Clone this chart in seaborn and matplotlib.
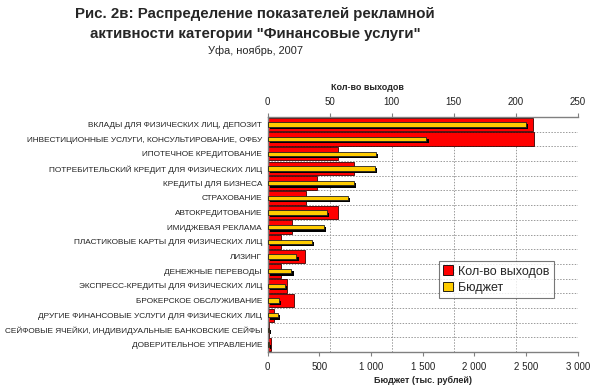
import matplotlib
matplotlib.use("Agg")
import matplotlib.pyplot as plt
import matplotlib.patheffects as pe
import seaborn as sns
import pandas as pd
import numpy as np
from matplotlib.patches import Patch

categories = [
    "ВКЛАДЫ ДЛЯ ФИЗИЧЕСКИХ ЛИЦ, ДЕПОЗИТ",
    "ИНВЕСТИЦИОННЫЕ УСЛУГИ, КОНСУЛЬТИРОВАНИЕ, ОФБУ",
    "ИПОТЕЧНОЕ КРЕДИТОВАНИЕ",
    "ПОТРЕБИТЕЛЬСКИЙ КРЕДИТ ДЛЯ ФИЗИЧЕСКИХ ЛИЦ",
    "КРЕДИТЫ ДЛЯ БИЗНЕСА",
    "СТРАХОВАНИЕ",
    "АВТОКРЕДИТОВАНИЕ",
    "ИМИДЖЕВАЯ РЕКЛАМА",
    "ПЛАСТИКОВЫЕ КАРТЫ ДЛЯ ФИЗИЧЕСКИХ ЛИЦ",
    "ЛИЗИНГ",
    "ДЕНЕЖНЫЕ ПЕРЕВОДЫ",
    "ЭКСПРЕСС-КРЕДИТЫ ДЛЯ ФИЗИЧЕСКИХ ЛИЦ",
    "БРОКЕРСКОЕ ОБСЛУЖИВАНИЕ",
    "ДРУГИЕ ФИНАНСОВЫЕ УСЛУГИ ДЛЯ ФИЗИЧЕСКИХ ЛИЦ",
    "СЕЙФОВЫЕ ЯЧЕЙКИ, ИНДИВИДУАЛЬНЫЕ БАНКОВСКИЕ СЕЙФЫ",
    "ДОВЕРИТЕЛЬНОЕ УПРАВЛЕНИЕ",
]
vykhody = [214, 215, 57, 70, 40, 31, 57, 20, 11, 30, 11, 16, 21, 5, 1, 3]
budget = [2500, 1535, 1050, 1040, 832, 775, 575, 542, 430, 278, 230, 165, 107, 102, 14, 10]

count_ticks = [0, 50, 100, 150, 200, 250]
budget_ticks = [0, 500, 1000, 1500, 2000, 2500, 3000]
budget_tick_labels = ["0", "500", "1 000", "1 500", "2 000", "2 500", "3 000"]

title_line1 = "Рис. 2в: Распределение показателей рекламной"
title_line2 = "активности категории \"Финансовые услуги\""
subtitle = "Уфа, ноябрь, 2007"
series_names = ["Кол-во выходов", "Бюджет"]
xlabel_top = "Кол-во выходов"
xlabel_bottom = "Бюджет (тыс. рублей)"

df = pd.DataFrame({"cat": categories, "count": vykhody, "budget": budget})

sns.set_style("white")
plt.rcParams["font.family"] = ["Liberation Sans", "DejaVu Sans"]

fig = plt.figure(figsize=(6.0, 3.92), dpi=100)
ax = fig.add_axes([0.446, 0.102, 0.517, 0.5995])
ax2 = ax.twiny()

grid_c = "#9a9a9a"
axis_c = "#808080"

sns.barplot(data=df, y="cat", x="count", orient="h", ax=ax, color="#ff0000",
            saturation=1, width=0.92, edgecolor="#3a0000", linewidth=0.6, zorder=2)
sns.barplot(data=df, y="cat", x="budget", orient="h", ax=ax2, color="#ffcc00",
            saturation=1, width=0.3, edgecolor="#222222", linewidth=0.6, zorder=3)
for p in ax2.patches:
    p.set_path_effects([pe.SimplePatchShadow(offset=(1.6, -1.6), shadow_rgbFace="black", alpha=1.0),
                        pe.Normal()])

n = len(categories)
ax.set_ylim(n - 0.5, -0.5)
ax2.set_ylim(n - 0.5, -0.5)

# count axis on top
ax.set_xlim(0, 250)
ax.xaxis.set_ticks_position("top")
ax.xaxis.set_label_position("top")
ax.set_xticks(count_ticks)
ax.set_xticklabels([str(v) for v in count_ticks], fontsize=7, color="#222222")
ax.tick_params(axis="x", which="major", direction="out", length=3, color=axis_c, pad=4)
ax.set_xlabel("")
ax.set_ylabel("")

# budget axis on bottom
ax2.set_xlim(0, 3000)
ax2.xaxis.set_ticks_position("bottom")
ax2.xaxis.set_label_position("bottom")
ax2.set_xticks(budget_ticks)
ax2.set_xticklabels(budget_tick_labels, fontsize=7, color="#222222")
ax2.tick_params(axis="x", which="major", direction="out", length=3, color=axis_c, pad=4)
ax2.set_xlabel(xlabel_bottom, fontsize=6.5, fontweight="bold", labelpad=3)
ax2.set_ylabel("")

# y labels
ax.set_yticks(range(n))
ax.set_yticklabels(categories, fontsize=5.95, color="#222222")
ax.tick_params(axis="y", which="major", length=0, pad=4)
ax.set_yticks(np.arange(-0.5, n, 1.0), minor=True)
ax.tick_params(axis="y", which="minor", length=3, color=axis_c, direction="out")
ax2.tick_params(axis="y", which="both", left=False, right=False, labelleft=False, labelright=False)

# grids
ax.grid(False)
ax2.grid(False)
for v in count_ticks[1:]:
    ax.axvline(v, color=grid_c, linestyle=(0, (1.5, 1.5)), linewidth=0.7, zorder=0)
for b in np.arange(0.5, n - 0.5, 1.0):
    ax.axhline(b, color=grid_c, linestyle=(0, (1.5, 1.5)), linewidth=0.7, zorder=0)

for s in ["right", "bottom"]:
    ax.spines[s].set_visible(False)
for s in ["top", "left"]:
    ax.spines[s].set_color(axis_c)
    ax.spines[s].set_linewidth(1.0)
for s in ["right", "top", "left"]:
    ax2.spines[s].set_visible(False)
ax2.spines["bottom"].set_color(axis_c)
ax2.spines["bottom"].set_linewidth(1.0)
ax2.patch.set_visible(False)

fig.text(0.612, 1 - 88 / 392, xlabel_top, fontsize=6.5, fontweight="bold", ha="center", va="center")

fig.text(0.425, 1 - 14 / 392, title_line1, fontsize=10.8, fontweight="bold", ha="center", va="center")
fig.text(0.425, 1 - 34 / 392, title_line2, fontsize=10.8, fontweight="bold", ha="center", va="center")
fig.text(0.425, 1 - 51 / 392, subtitle, fontsize=7.9, ha="center", va="center")

handles = [Patch(facecolor="#ff0000", edgecolor="black", linewidth=0.6),
           Patch(facecolor="#ffcc00", edgecolor="black", linewidth=0.6)]
leg = fig.legend(handles, series_names, loc="upper left",
                 bbox_to_anchor=(439 / 600, 1 - 261 / 392), fontsize=9.0,
                 frameon=True, fancybox=False, edgecolor="#555555",
                 handlelength=0.8, handleheight=0.8, handletextpad=0.35,
                 borderpad=0.35, labelspacing=0.35, borderaxespad=0)
leg.get_frame().set_linewidth(0.8)

fig.savefig("out.png", dpi=100)
